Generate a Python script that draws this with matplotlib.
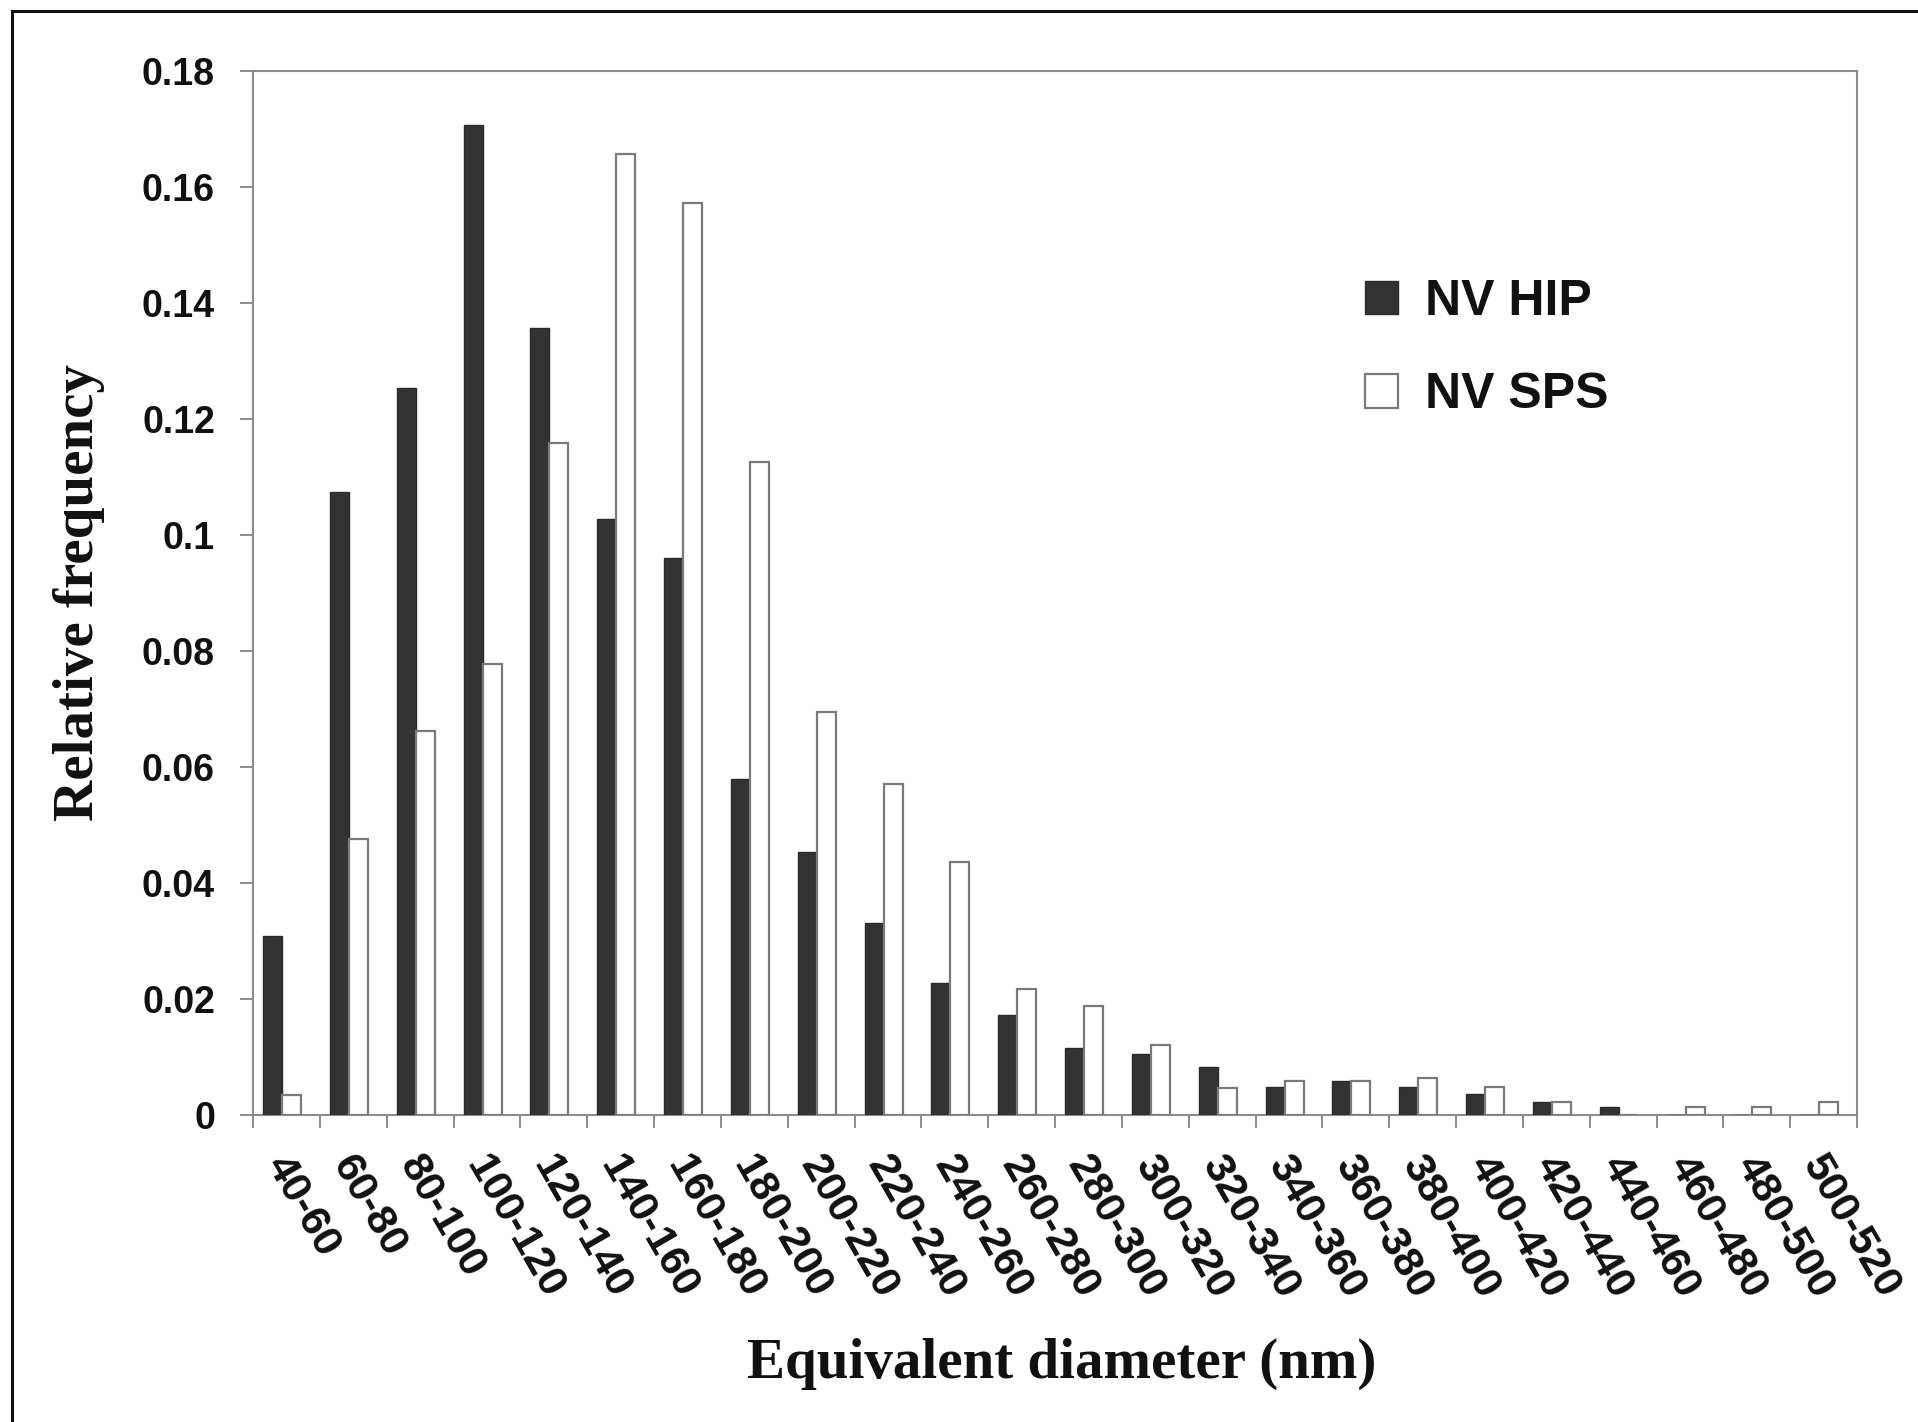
import matplotlib
matplotlib.use("Agg")
import matplotlib.pyplot as plt
import matplotlib.transforms as mtransforms
from matplotlib.lines import Line2D
import numpy as np

categories = ["40-60", "60-80", "80-100", "100-120", "120-140", "140-160",
              "160-180", "180-200", "200-220", "220-240", "240-260", "260-280",
              "280-300", "300-320", "320-340", "340-360", "360-380", "380-400",
              "400-420", "420-440", "440-460", "460-480", "480-500", "500-520"]
nv_hip = [0.0308, 0.1075, 0.1254, 0.1707, 0.1357, 0.1027, 0.0961, 0.0580,
          0.0453, 0.0331, 0.0228, 0.0173, 0.0116, 0.0105, 0.0082, 0.0048,
          0.0059, 0.0048, 0.0036, 0.0023, 0.0013, 0.0, 0.0, 0.0]
nv_sps = [0.0034, 0.0476, 0.0662, 0.0778, 0.1159, 0.1657, 0.1573, 0.1126,
          0.0694, 0.0571, 0.0436, 0.0217, 0.0188, 0.0120, 0.0046, 0.0059,
          0.0059, 0.0063, 0.0048, 0.0023, 0.0, 0.0013, 0.0013, 0.0023]
y_ticks = [0, 0.02, 0.04, 0.06, 0.08, 0.1, 0.12, 0.14, 0.16, 0.18]
y_tick_labels = ["0", "0.02", "0.04", "0.06", "0.08", "0.1", "0.12", "0.14", "0.16", "0.18"]

W, H = 1918, 1422
fig = plt.figure(figsize=(W / 100, H / 100), dpi=100)
ax = fig.add_axes([253 / W, 1 - 1115 / H, (1857 - 253) / W, (1115 - 71) / H])

x = np.arange(len(categories))
bw = 0.285
shift = -0.065
spine_col = "#8c8c8c"
ax.bar(x + shift - bw / 2, nv_hip, width=bw, color="#333333", edgecolor="#2a2a2a",
       linewidth=1.0, label="NV HIP", zorder=3)
ax.bar(x + shift + bw / 2, nv_sps, width=bw, color="white", edgecolor="#7a7a7a",
       linewidth=1.6, label="NV SPS", zorder=3)

ax.set_xlim(-0.5, len(categories) - 0.5)
ax.set_ylim(0, 0.18)

for s in ax.spines.values():
    s.set_color(spine_col)
    s.set_linewidth(1.5)

ax.set_yticks(y_ticks)
ax.set_yticklabels(y_tick_labels, fontfamily="Liberation Sans", fontweight="bold",
                   fontsize=27, color="#111111")
ax.tick_params(axis="y", direction="out", length=9.4, width=1.4, color=spine_col, pad=18)

ax.set_xticks(x)
ax.set_xticklabels(categories, fontfamily="Liberation Sans", fontweight="bold",
                   fontsize=31, color="#111111", rotation=-60, ha="left", va="center",
                   rotation_mode="anchor")
ax.tick_params(axis="x", which="major", length=0, pad=31)
ax.set_xticks(np.arange(-0.5, len(categories), 1.0), minor=True)
ax.tick_params(axis="x", which="minor", direction="out", length=9.4, width=1.4, color=spine_col)
offset = mtransforms.ScaledTranslation(-12 / 100, 0, fig.dpi_scale_trans)
for lab in ax.get_xticklabels():
    lab.set_transform(lab.get_transform() + offset)

ax.set_ylabel("Relative frequency", fontfamily="Liberation Serif", fontweight="bold",
              fontsize=41, color="#111111", va="center")
ax.yaxis.set_label_coords((79 - 253) / 1604, 0.5)
ax.set_xlabel("Equivalent diameter (nm)", fontfamily="Liberation Serif", fontweight="bold",
              fontsize=41, color="#111111", va="center")
ax.xaxis.set_label_coords((1062 - 253) / 1604, (1115 - 1364) / 1044)

leg = ax.legend(loc="upper left", bbox_to_anchor=(1365 / W, 1 - 279 / H),
                bbox_transform=fig.transFigure, frameon=False, borderpad=0,
                borderaxespad=0, handlelength=0.66, handleheight=0.66,
                handletextpad=0.54, labelspacing=0.95,
                prop={"family": "Liberation Sans", "weight": "bold", "size": 36})
for t in leg.get_texts():
    t.set_color("#111111")

# outer frame (top and left edges visible)
fig.add_artist(Line2D([12 / W, 12 / W], [0, 1 - 11 / H], transform=fig.transFigure,
                      color="#111111", linewidth=2.2))
fig.add_artist(Line2D([12 / W, 1], [1 - 11 / H, 1 - 11 / H], transform=fig.transFigure,
                      color="#111111", linewidth=2.2))

fig.savefig("out.png", dpi=100, facecolor="white")
